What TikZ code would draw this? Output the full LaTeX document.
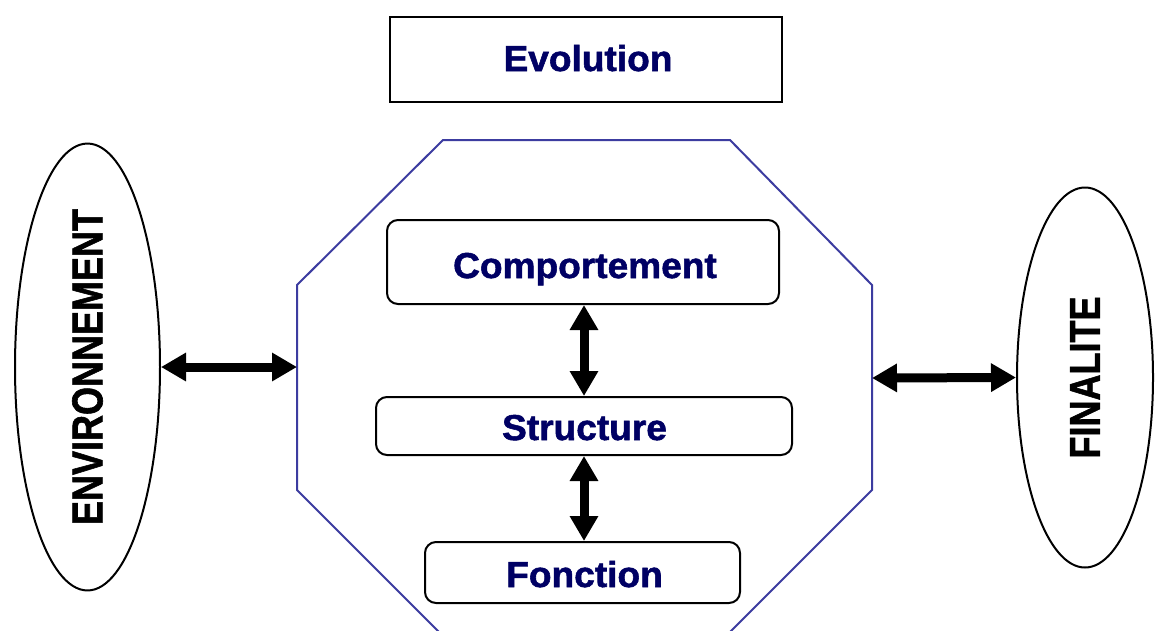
\documentclass[tikz,border=0pt]{standalone}
\usepackage{fontspec}
\setmainfont{Liberation Sans}
\newfontfamily\heavyfont{Liberation Sans}[BoldFeatures={FakeBold=1.5}]
\usetikzlibrary{shapes.geometric,arrows.meta}
\definecolor{navy}{RGB}{0,0,100}
\definecolor{octblue}{RGB}{60,60,160}
\tikzset{
  x=1pt,y=-1pt,
  sqbox/.style={draw=black,line width=2pt,fill=white,inner sep=0pt},
  rbox/.style={draw=black,line width=2pt,fill=white,inner sep=0pt,rounded corners=11pt},
  boxtxt/.style={anchor=base,inner sep=0pt,text=navy,font=\fontsize{36}{40}\heavyfont\bfseries},
  oval/.style={ellipse,draw=black,line width=2pt,inner sep=0pt,font=\fontsize{36}{40}\heavyfont\bfseries},
  dbl/.style={line width=9pt,{Triangle[width=27pt,length=25pt]}-{Triangle[width=27pt,length=25pt]}},
}
\begin{document}
\begin{tikzpicture}
\useasboundingbox (0,0) rectangle (1155,630);
\clip (0,0) rectangle (1155,630);
\fill[white] (0,0) rectangle (1155,630);
% octagon
\draw[octblue,line width=2pt,line join=miter]
  (443,140) -- (730,140) -- (872,285) -- (872,490) -- (727,635) -- (442,635) -- (297,490) -- (297,285) -- cycle;
\coordinate (octL) at (297,367);
\coordinate (octR) at (872,378);
% top box
\node[sqbox,minimum width=392pt,minimum height=85pt] (evo) at (586,59.5) {};
\node[boxtxt] (evot) at (588,71) {\scalebox{1.03}[1]{Evolution}};
% inner boxes
\node[rbox,minimum width=392pt,minimum height=84pt] (comp) at (583,262) {};
\node[boxtxt] (compt) at (585,278) {\scalebox{1.03}[1]{Comportement}};
\node[rbox,minimum width=416pt,minimum height=58pt] (struct) at (584,426) {};
\node[boxtxt] (structt) at (584.5,440) {\scalebox{1.03}[1]{Structure}};
\node[rbox,minimum width=315pt,minimum height=61pt] (fonc) at (582.5,572.5) {};
\node[boxtxt] (fonct) at (584.5,587) {\scalebox{1.03}[1]{Fonction}};
% ellipses
\node[oval,minimum width=145pt,minimum height=440pt] (env) at (87.5,367)
  {\rotatebox{90}{\scalebox{1}[1.2]{ENVIRONNEMENT}}};
\node[oval,minimum width=136pt,minimum height=380pt] (fin) at (1085,377.5)
  {\rotatebox{90}{\scalebox{1}[1.2]{FINALITE}}};
% arrows
\draw[dbl] (comp.south -| 584,0) -- (struct.north -| 584,0);
\draw[dbl] (struct.south -| 584,0) -- (fonc.north -| 584,0);
\draw[dbl] (env.east) -- (octL);
\draw[dbl] (octR) -- (fin.west);
\end{tikzpicture}
\end{document}
